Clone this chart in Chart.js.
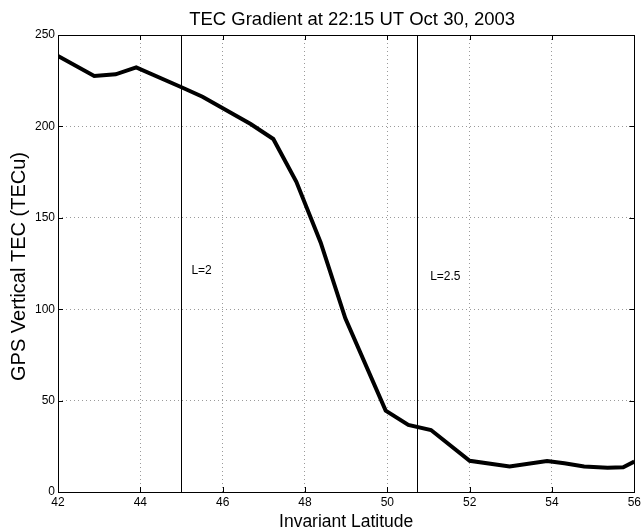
<!DOCTYPE html>
<html>
<head>
<meta charset="utf-8">
<script src="https://cdn.jsdelivr.net/npm/chart.js@4.4.0/dist/chart.umd.min.js"></script>
<style>
  body { margin: 0; background: #fff; }
  #wrap { width: 644px; height: 530px; }
</style>
</head>
<body>
<div id="wrap"><canvas id="chart" width="644" height="530"></canvas></div>
<script>
// TEC profile
const latitude = [42, 42.88, 43.4, 43.9, 45.0, 45.51, 46.68, 47.23, 47.79, 48.38, 48.98, 49.96, 50.51, 51.06, 52.0, 52.97, 53.88, 54.3, 54.78, 55.35, 55.73, 56];
const tec = [238.5, 227.6, 228.5, 232.3, 221.4, 216.2, 201.3, 193.1, 169.7, 136.5, 95, 44.5, 36.7, 33.9, 17.1, 13.9, 17.0, 15.7, 14.0, 13.3, 13.5, 16.6];

// L-shell markers and where their labels sit (data units)
const shellLat = [45.0, 50.71];
const shellLabels = ['L=2', 'L=2.5'];
const labelLat = [45.24, 51.04];
const labelTec = [121, 118];

const xTicks = [42, 44, 46, 48, 50, 52, 54, 56];
const yTicks = [0, 50, 100, 150, 200, 250];

const FONT = "'Liberation Sans', Arial, sans-serif";

// box, inward ticks, L lines and the text, matlab style
const framePlugin = {
  id: 'frame',
  afterDraw(chart) {
    const { ctx, chartArea: a, scales: { x, y } } = chart;
    ctx.save();
    ctx.strokeStyle = '#000';
    ctx.lineWidth = 1;
    ctx.beginPath();
    xTicks.forEach(v => {
      const px = Math.round(x.getPixelForValue(v)) + 0.5;
      ctx.moveTo(px, a.bottom); ctx.lineTo(px, a.bottom - 5);
      ctx.moveTo(px, a.top); ctx.lineTo(px, a.top + 5);
    });
    yTicks.forEach(v => {
      const py = Math.round(y.getPixelForValue(v)) + 0.5;
      ctx.moveTo(a.left, py); ctx.lineTo(a.left + 5, py);
      ctx.moveTo(a.right, py); ctx.lineTo(a.right - 5, py);
    });
    shellLat.forEach(v => {
      const px = Math.round(x.getPixelForValue(v)) + 0.5;
      ctx.moveTo(px, a.top); ctx.lineTo(px, a.bottom);
    });
    ctx.stroke();
    ctx.strokeRect(Math.round(a.left) + 0.5, Math.round(a.top) + 0.5,
      Math.round(a.right - a.left), Math.round(a.bottom - a.top));

    ctx.fillStyle = '#000';
    ctx.font = '12px ' + FONT;
    ctx.textBaseline = 'middle';
    ctx.textAlign = 'left';
    shellLabels.forEach((t, i) => {
      ctx.fillText(t, x.getPixelForValue(labelLat[i]), y.getPixelForValue(labelTec[i]));
    });

    const cx = (a.left + a.right) / 2;
    ctx.textAlign = 'center';
    ctx.textBaseline = 'alphabetic';
    ctx.font = '18.5px ' + FONT;
    ctx.fillText('TEC Gradient at 22:15 UT Oct 30, 2003', cx + 6, 25);
    ctx.font = '17.5px ' + FONT;
    ctx.fillText('Invariant Latitude', cx, 527);
    ctx.translate(25, (a.top + a.bottom) / 2 + 3);
    ctx.rotate(-Math.PI / 2);
    ctx.font = '20px ' + FONT;
    ctx.fillText('GPS Vertical TEC (TECu)', 0, 0);
    ctx.restore();
  }
};

new Chart(document.getElementById('chart'), {
  type: 'line',
  data: {
    datasets: [{
      data: latitude.map((v, i) => ({ x: v, y: tec[i] })),
      borderColor: '#000',
      borderWidth: 4,
      pointRadius: 0,
      tension: 0,
      fill: false
    }]
  },
  options: {
    responsive: false,
    animation: false,
    layout: { padding: { left: 0, right: 7, top: 35, bottom: 0 } },
    plugins: {
      legend: { display: false },
      tooltip: { enabled: false },
      title: { display: false }
    },
    scales: {
      x: {
        type: 'linear',
        min: 42, max: 56,
        afterBuildTicks: s => { s.ticks = xTicks.map(v => ({ value: v })); },
        afterFit: s => { s.height = 38; },
        ticks: { color: '#000', font: { family: FONT, size: 12 }, padding: 3, maxRotation: 0 },
        grid: { color: '#9a9a9a', drawTicks: false, lineWidth: 1 },
        border: { display: false, dash: [1, 3] }
      },
      y: {
        min: 0, max: 250,
        afterBuildTicks: s => { s.ticks = yTicks.map(v => ({ value: v })); },
        afterFit: s => { s.width = 58; },
        ticks: { color: '#000', font: { family: FONT, size: 12 }, padding: 3 },
        grid: { color: '#9a9a9a', drawTicks: false, lineWidth: 1 },
        border: { display: false, dash: [1, 3] }
      }
    }
  },
  plugins: [framePlugin]
});
</script>
</body>
</html>
